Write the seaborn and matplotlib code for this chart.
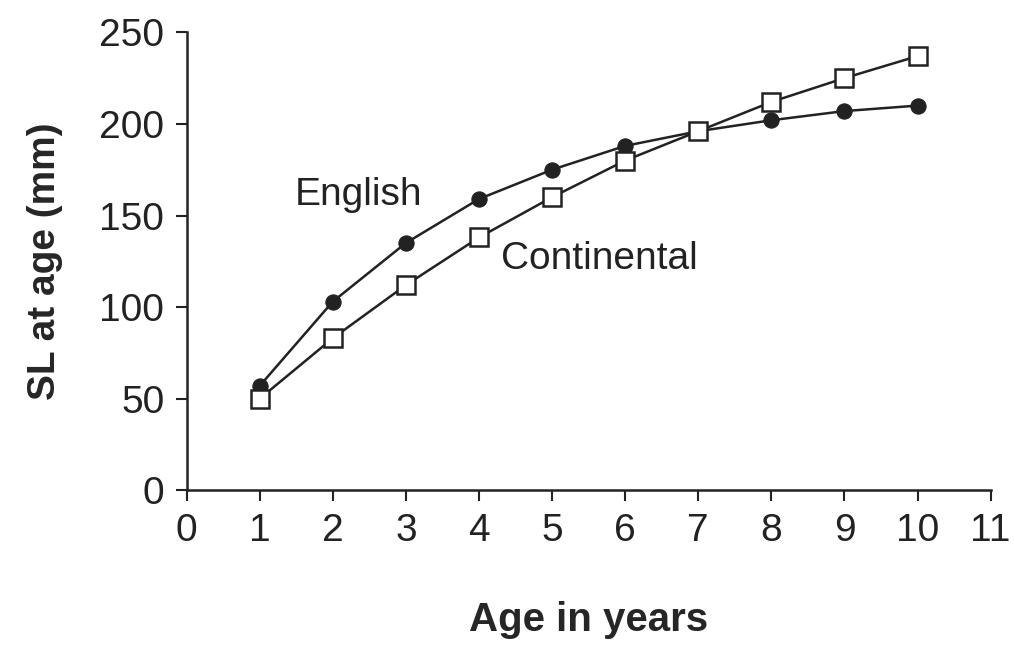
import pandas as pd
import matplotlib
matplotlib.use('Agg')
import matplotlib.pyplot as plt
import seaborn as sns

# values
ages = [1, 2, 3, 4, 5, 6, 7, 8, 9, 10]
english = [57, 103, 135, 159, 175, 188, 196, 202, 207, 210]
continental = [50, 83, 112, 138, 160, 180, 196, 212, 225, 237]
x_ticks = list(range(0, 12))
y_ticks = [0, 50, 100, 150, 200, 250]

sns.set_style('white')
plt.rcParams['font.family'] = ['Liberation Sans', 'DejaVu Sans']

df = pd.DataFrame({'Age': ages, 'English': english, 'Continental': continental})

fig = plt.figure(figsize=(10.14, 6.46), dpi=100)
ax = fig.add_axes([0.184, 0.241, 0.793, 0.709])

ink = '#222222'
sns.lineplot(data=df, x='Age', y='English', ax=ax, color=ink, lw=1.8,
             marker='o', markersize=11, markerfacecolor=ink, markeredgecolor=ink,
             clip_on=False, zorder=3)
sns.lineplot(data=df, x='Age', y='Continental', ax=ax, color=ink, lw=1.8,
             marker='s', markersize=13, markerfacecolor='white', markeredgecolor=ink,
             markeredgewidth=1.8, clip_on=False, zorder=4)

ax.text(2.35, 161, 'English', fontsize=28, ha='center', va='center', color=ink)
ax.text(5.65, 126, 'Continental', fontsize=28, ha='center', va='center', color=ink)

ax.set_xlim(0, 11)
ax.set_ylim(0, 250)
ax.set_xticks(x_ticks)
ax.set_yticks(y_ticks)
ax.tick_params(axis='both', direction='out', length=8, width=1.5, colors=ink,
               labelsize=28, pad=8, left=True, bottom=True)
for s in ['top', 'right']:
    ax.spines[s].set_visible(False)
for s in ['left', 'bottom']:
    ax.spines[s].set_color(ink)
    ax.spines[s].set_linewidth(1.8)

ax.set_xlabel('Age in years', fontsize=29, fontweight='bold', labelpad=38)
ax.set_ylabel('SL at age (mm)', fontsize=28, fontweight='bold', labelpad=26)

fig.savefig('out.png', dpi=100, facecolor='white')
